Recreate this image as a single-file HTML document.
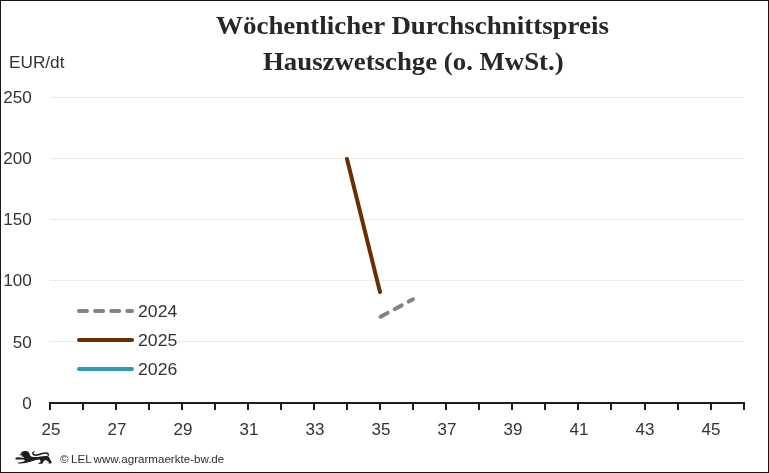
<!DOCTYPE html>
<html lang="de">
<head>
<meta charset="utf-8">
<title>Wöchentlicher Durchschnittspreis Hauszwetschge</title>
<style>
  html, body { margin: 0; padding: 0; background: #ffffff; }
  body { width: 769px; height: 473px; overflow: hidden; position: relative;
         font-family: "Liberation Sans", sans-serif; color: #333333; }
  #frame { position: absolute; left: 0; top: 0; width: 769px; height: 473px;
           box-sizing: border-box; border: 1px solid #1a1613; }
  svg { position: absolute; left: 0; top: 0; }
  .t { position: absolute; white-space: nowrap; line-height: 1; will-change: transform; -webkit-font-smoothing: antialiased; }
  .title { font-family: "Liberation Serif", serif; font-weight: bold; font-size: 26px;
           color: #2a2624; transform-origin: 0 0; }
  .yl { font-size: 16.5px; width: 31.8px; left: 0; text-align: right; transform-origin: 100% 0; transform: scaleX(1.035); }
  .xl { font-size: 16.5px; width: 40px; text-align: center; top: 421px; transform-origin: 50% 0; transform: scaleX(1.03); }
  .lg { font-size: 17px; left: 137.8px; transform-origin: 0 0; transform: scaleX(1.04); }
  .foot { font-size: 11px; left: 59.6px; top: 453.6px; transform-origin: 0 0; transform: scaleX(1.053); word-spacing: -0.75px; color: #2e2e2e; }
</style>
</head>
<body>
<div id="frame"></div>

<svg width="769" height="473" viewBox="0 0 769 473">
  <!-- grid lines -->
  <g stroke="#e7e4e4" stroke-width="1" stroke-dasharray="3 1" fill="none">
    <line x1="50" y1="97.5" x2="744" y2="97.5"/>
    <line x1="50" y1="158.5" x2="744" y2="158.5"/>
    <line x1="50" y1="219.5" x2="744" y2="219.5"/>
    <line x1="50" y1="280.5" x2="744" y2="280.5"/>
    <line x1="50" y1="341.5" x2="744" y2="341.5"/>
  </g>
  <!-- legend background -->
  <rect x="76.5" y="300" width="101" height="80" fill="#ffffff"/>
  <!-- x axis -->
  <g stroke="#1e1e1e" stroke-width="2" fill="none">
    <line x1="49" y1="403" x2="745" y2="403"/>
    <path d="M50 403V410 M83 403V410 M116 403V410 M149 403V410 M182 403V410 M215 403V410 M248 403V410 M281 403V410 M314 403V410 M347 403V410 M380 403V410 M413 403V410 M446 403V410 M479 403V410 M512 403V410 M545 403V410 M578 403V410 M611 403V410 M645 403V410 M678 403V410 M711 403V410 M744 403V410"/>
  </g>
  <!-- data series -->
  <line x1="380.5" y1="316.7" x2="413" y2="299.3" stroke="#838383" stroke-width="4" stroke-linecap="round" stroke-dasharray="8 8"/>
  <line x1="347" y1="159" x2="380" y2="292" stroke="#6b2e00" stroke-width="4" stroke-linecap="round"/>
  <!-- legend -->
  <line x1="79" y1="311" x2="132" y2="311" stroke="#838383" stroke-width="4" stroke-linecap="round" stroke-dasharray="8 8.1"/>
  <line x1="79" y1="340" x2="132" y2="340" stroke="#6b2e00" stroke-width="4" stroke-linecap="round"/>
  <line x1="79" y1="369" x2="132" y2="369" stroke="#2e9bb3" stroke-width="4" stroke-linecap="round"/>
  <!-- logo: striding lion -->
  <g id="lion" fill="#1e1e1e" stroke="none" transform="translate(12 446) scale(0.05721)">
    <!-- body, head, legs -->
    <path d="M56 218 C74 196 110 194 140 202 L206 210 C208 200 204 190 192 184 L156 184 L186 168 L134 162 C124 158 126 148 138 148 L166 142 C154 124 160 106 178 102 C196 90 236 84 262 92 C290 100 306 124 312 152 C318 172 330 184 352 188 C400 196 450 190 500 182 C545 174 590 170 624 178 C648 186 660 206 664 232 C670 254 690 264 696 284 C698 298 680 306 646 306 C632 304 634 292 648 286 C640 270 612 258 592 244 C570 248 552 262 546 280 C544 296 540 306 520 310 L470 312 C456 308 458 296 474 292 L496 286 C502 268 498 250 478 238 C440 244 400 252 360 262 C330 272 300 284 270 290 C220 300 170 306 108 308 C94 304 98 294 116 290 C150 284 196 276 228 258 C222 246 206 240 184 238 C150 238 110 238 84 236 C64 234 54 228 56 218 Z"/>
    <!-- tail -->
    <path d="M624 190 C650 170 662 130 620 112 C570 96 490 130 430 146 C400 152 380 146 380 124 C382 106 398 98 408 88 C380 86 350 104 352 136 C356 172 400 178 446 172 C500 162 560 128 606 138 C634 146 626 172 614 184 Z"/>
  </g>
</svg>

<div class="t title" id="t1" style="left:216.4px; top:13.1px; transform:scaleX(1.0365);">Wöchentlicher Durchschnittspreis</div>
<div class="t title" id="t2" style="left:262.8px; top:48.9px; transform:scaleX(1.0305);">Hauszwetschge (o. MwSt.)</div>

<div class="t" id="unit" style="left:8.6px; top:54.2px; font-size:17px; transform-origin:0 0; transform:scaleX(1.012);">EUR/dt</div>

<div class="t yl" style="top:88.7px;">250</div>
<div class="t yl" style="top:149.9px;">200</div>
<div class="t yl" style="top:211.1px;">150</div>
<div class="t yl" style="top:272.3px;">100</div>
<div class="t yl" style="top:333.5px;">50</div>
<div class="t yl" style="top:394.7px;">0</div>

<div class="t xl" style="left:31px;">25</div>
<div class="t xl" style="left:97px;">27</div>
<div class="t xl" style="left:163px;">29</div>
<div class="t xl" style="left:229px;">31</div>
<div class="t xl" style="left:295px;">33</div>
<div class="t xl" style="left:361px;">35</div>
<div class="t xl" style="left:427px;">37</div>
<div class="t xl" style="left:493px;">39</div>
<div class="t xl" style="left:559px;">41</div>
<div class="t xl" style="left:625px;">43</div>
<div class="t xl" style="left:691px;">45</div>

<div class="t lg" style="top:303px;">2024</div>
<div class="t lg" style="top:332px;">2025</div>
<div class="t lg" style="top:361px;">2026</div>

<div class="t foot" id="foot">© LEL www.agrarmaerkte-bw.de</div>
</body>
</html>
